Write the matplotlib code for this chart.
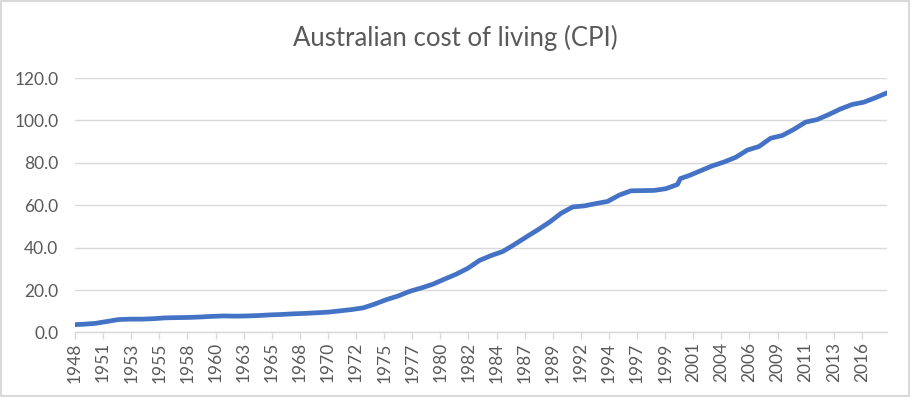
import numpy as np
import matplotlib
matplotlib.use("Agg")
import matplotlib.pyplot as plt
from matplotlib.patches import Rectangle

# quarter dates as decimal years, CPI index
years = [1948.75, 1949.5, 1950.5, 1951.5, 1952.5, 1953.5, 1954.5, 1955.5, 1956.5,
         1957.5, 1958.5, 1959.5, 1960.5, 1961.5, 1962.5, 1963.5, 1964.5, 1965.5,
         1966.5, 1967.5, 1968.5, 1969.5, 1970.5, 1971.5, 1972.5, 1973.5, 1974.5,
         1975.5, 1976.5, 1977.5, 1978.5, 1979.5, 1980.5, 1981.5, 1982.5, 1983.5,
         1984.5, 1985.5, 1986.5, 1987.5, 1988.5, 1989.5, 1990.5, 1991.5, 1992.5,
         1993.5, 1994.5, 1995.5, 1996.5, 1997.5, 1998.5, 1999.5, 2000.5, 2000.75,
         2001.5, 2002.5, 2003.5, 2004.5, 2005.5, 2006.5, 2007.5, 2008.5, 2009.5,
         2010.5, 2011.5, 2012.5, 2013.5, 2014.5, 2015.5, 2016.5, 2017.5, 2018.5]
cpi = [3.7, 3.9, 4.3, 5.2, 6.1, 6.3, 6.3, 6.5, 6.9,
       7.0, 7.1, 7.3, 7.6, 7.8, 7.7, 7.8, 8.0, 8.3,
       8.5, 8.8, 9.0, 9.3, 9.6, 10.2, 10.8, 11.6, 13.4,
       15.5, 17.2, 19.4, 21.0, 22.8, 25.2, 27.5, 30.3, 34.0,
       36.3, 38.2, 41.5, 45.0, 48.4, 52.0, 56.2, 59.2, 59.7,
       60.8, 61.8, 64.8, 66.8, 66.9, 67.0, 67.8, 69.8, 72.6,
       74.0, 76.3, 78.6, 80.4, 82.6, 86.0, 87.7, 91.6, 92.9,
       95.8, 99.2, 100.4, 102.8, 105.4, 107.5, 108.6, 110.7, 113.0]

tick_labels = ["1948", "1951", "1953", "1955", "1958", "1960", "1963", "1965",
               "1968", "1970", "1972", "1975", "1977", "1980", "1982", "1984",
               "1987", "1989", "1992", "1994", "1997", "1999", "2001", "2004",
               "2006", "2009", "2011", "2013", "2016"]
y_ticks = [0, 20, 40, 60, 80, 100, 120]

plt.rcParams['font.family'] = ['Lato', 'DejaVu Sans']
grey = "#595959"
grid = "#D9D9D9"

fig = plt.figure(figsize=(9.11, 3.97), dpi=100)
ax = fig.add_axes([0.0823, 0.1625, 0.8914, 0.641])

ax.plot(years, cpi, color="#4472C4", lw=3.4, solid_capstyle="round", solid_joinstyle="round")

ax.set_xlim(years[0], years[-1])
ax.set_ylim(0, 120)
ax.set_yticks(y_ticks)
ax.set_yticklabels(["%.1f" % v for v in y_ticks])

step = 2.414  # label every ~2.4 years, as in the source axis
ax.set_xticks([years[0] + step * k for k in range(len(tick_labels))])
ax.set_xticklabels(tick_labels, rotation=90)

ax.grid(axis="y", color=grid, lw=1.0)
ax.set_axisbelow(True)
for s in ["top", "right", "left"]:
    ax.spines[s].set_visible(False)
ax.spines["bottom"].set_color(grid)
ax.spines["bottom"].set_linewidth(1.0)
ax.tick_params(axis="y", length=0, pad=12, labelsize=12.5, labelcolor=grey)
ax.tick_params(axis="x", length=5, color=grid, width=1.0, pad=2, labelsize=12.5, labelcolor=grey)

fig.text(0.5, 0.905, "Australian cost of living (CPI)", ha="center", va="center",
         fontsize=18.5, color=grey)

fig.patches.append(Rectangle((0.001, 0.002), 0.997, 0.995, transform=fig.transFigure,
                             fill=False, edgecolor=grid, lw=1.5))

fig.savefig("out.png", dpi=100)
